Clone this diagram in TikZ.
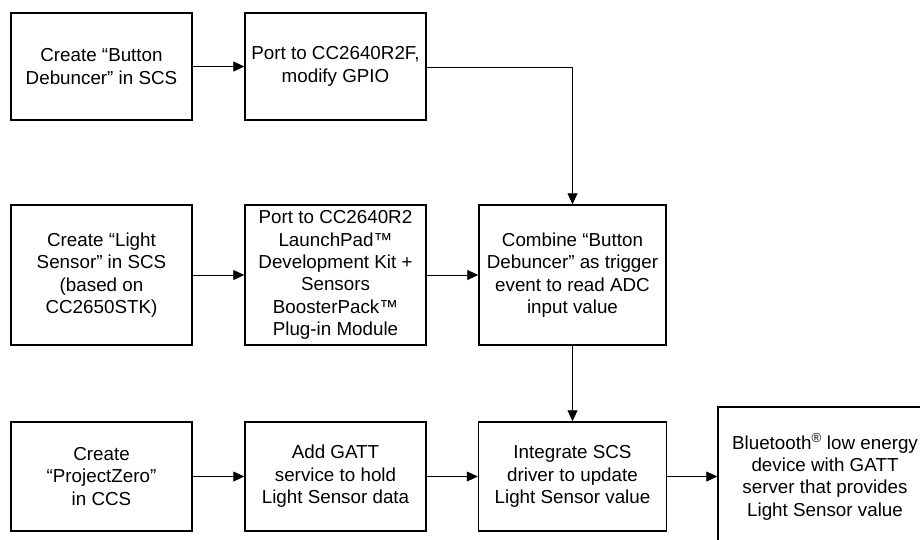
\documentclass[tikz,border=0pt]{standalone}
\usepackage{fontspec}
\setmainfont{Liberation Sans}
\usepackage{tikz}
\usetikzlibrary{arrows.meta, positioning}

\tikzset{
  stepbox/.style={draw, line width=1.5pt, align=center, inner sep=2pt,
    font=\fontsize{18.8}{22.4}\selectfont},
  flow/.style={line width=0.8pt, -{Triangle[length=11pt,width=10pt]}}
}

\begin{document}
\begin{tikzpicture}[x=1pt,y=1pt]
\clip (0,0) rectangle (920,-539);
\useasboundingbox (0,0) rectangle (920,-539);
% top row
\node[stepbox, minimum width=181, minimum height=107] (button) at (101.5,-66.5) {Create “Button\\Debuncer” in SCS};
\node[stepbox, minimum width=181, minimum height=107] (portf) at (335.5,-66.5) {Port to CC2640R2F,\\modify GPIO};
% middle row
\node[stepbox, minimum width=181, minimum height=140] (light) at (101.5,-275) {Create “Light\\Sensor” in SCS\\(based on\\CC2650STK)};
\node[stepbox, minimum width=181, minimum height=140] (portlp) at (335.5,-275) {Port to CC2640R2\\LaunchPad™\\Development Kit +\\Sensors\\BoosterPack™\\Plug-in Module};
\node[stepbox, minimum width=187, minimum height=140] (combine) at (572.5,-275) {Combine “Button\\Debuncer” as trigger\\event to read ADC\\input value};
% bottom row
\node[stepbox, minimum width=181, minimum height=109] (pzero) at (101.5,-476.5) {Create\\“ProjectZero”\\in CCS};
\node[stepbox, minimum width=181, minimum height=109] (gatt) at (335.5,-476.5) {Add GATT\\service to hold\\Light Sensor data};
\node[stepbox, minimum width=188, minimum height=109] (integ) at (572.5,-476.5) {Integrate SCS\\driver to update\\Light Sensor value};
\node[stepbox, minimum width=214, minimum height=140] (ble) at (825,-477) {Bluetooth\textsuperscript{®} low energy\\device with GATT\\server that provides\\Light Sensor value};
% connectors
\draw[flow] (button) -- (portf);
\draw[flow] (portf.east |- 0,-67) -| (combine.north);
\draw[flow] (light) -- (portlp);
\draw[flow] (portlp) -- (combine);
\draw[flow] (combine) -- (integ);
\draw[flow] (pzero) -- (gatt);
\draw[flow] (gatt) -- (integ);
\draw[flow] (integ) -- (ble.west |- integ);
\end{tikzpicture}
\end{document}
